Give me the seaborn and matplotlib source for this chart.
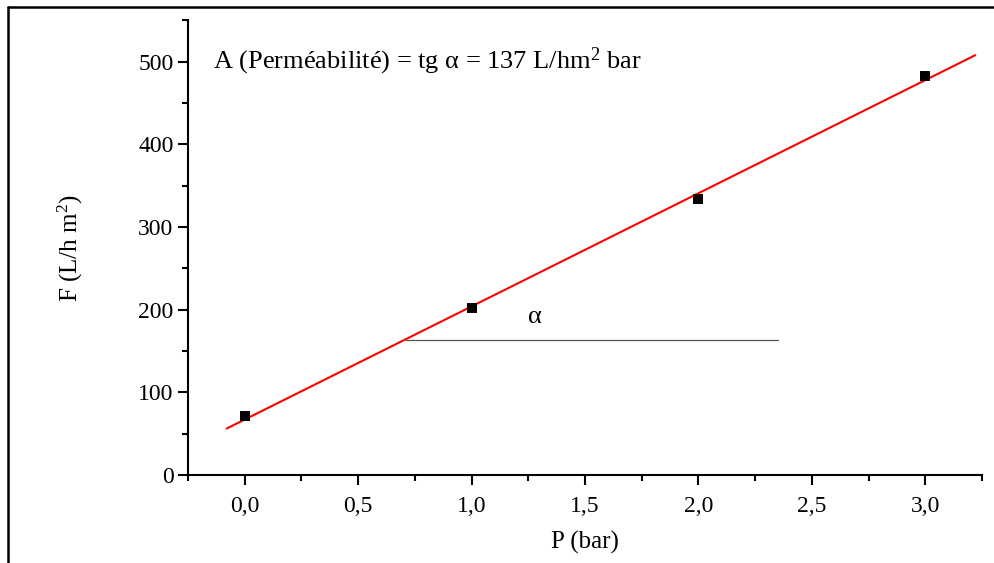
import numpy as np
import pandas as pd
import seaborn as sns
import matplotlib.pyplot as plt
from matplotlib.lines import Line2D
from matplotlib.ticker import MultipleLocator, FuncFormatter

# data
pressure = [0.0, 1.0, 2.0, 3.0]
flux = [71, 202, 334, 483]
fit_range = [-0.08, 3.22]
alpha_line_x = [0.71, 2.35]
alpha_line_y = 163

sns.set_style("ticks")
plt.rcParams['font.family'] = ['Liberation Serif', 'DejaVu Serif']
plt.rcParams['mathtext.fontset'] = 'custom'
plt.rcParams['mathtext.rm'] = 'Liberation Serif'
plt.rcParams['mathtext.it'] = 'Liberation Serif:italic'
plt.rcParams['text.color'] = 'black'
plt.rcParams['axes.labelcolor'] = 'black'
plt.rcParams['xtick.color'] = 'black'
plt.rcParams['ytick.color'] = 'black'
plt.rcParams['axes.edgecolor'] = 'black'

df = pd.DataFrame({'P': pressure, 'F': flux})

# linear fit (slope ~137)
slope, intercept = np.polyfit(pressure, flux, 1)
fit_x = np.array(fit_range)
fit_df = pd.DataFrame({'P': fit_x, 'F': slope * fit_x + intercept})

fig = plt.figure(figsize=(9.95, 5.63), dpi=100)
ax = fig.add_axes([0.189, 0.156, 0.798, 0.808])

sns.lineplot(x='P', y='F', data=fit_df, color='red', linewidth=1.5, ax=ax)
sns.scatterplot(x='P', y='F', data=df, marker='s', s=55, color='black',
                edgecolor='black', linewidth=0, ax=ax, zorder=3)
ax.plot(alpha_line_x, [alpha_line_y, alpha_line_y], color='#555555', linewidth=0.9)
ax.text(1.28, 178, 'α', fontsize=19, ha='center', va='bottom')

ax.text(-0.14, 500, 'A (Perméabilité) = tg α = 137 L/hm$^{2}$ bar',
        fontsize=19, ha='left', va='center')

ax.set_xlim(-0.25, 3.25)
ax.set_ylim(0, 550)
ax.xaxis.set_major_locator(MultipleLocator(0.5))
ax.xaxis.set_minor_locator(MultipleLocator(0.25))
ax.yaxis.set_major_locator(MultipleLocator(100))
ax.yaxis.set_minor_locator(MultipleLocator(50))
ax.xaxis.set_major_formatter(FuncFormatter(lambda v, p: f"{v:.1f}".replace('.', ',')))
ax.tick_params(which='major', length=7, width=1.5, labelsize=17, direction='out')
ax.tick_params(which='minor', length=4, width=1.5, direction='out')
ax.tick_params(axis='x', pad=8)

ax.set_xlabel('P (bar)', fontsize=18, labelpad=10)
ax.set_ylabel('F (L/h m$^{2}$)', fontsize=18, labelpad=38)

sns.despine(ax=ax)
for side in ['left', 'bottom']:
    ax.spines[side].set_linewidth(1.5)

# outer frame (left and top)
fig.add_artist(Line2D([8 / 995, 8 / 995], [0, 1 - 7 / 563], color='black', linewidth=1.8,
                      transform=fig.transFigure))
fig.add_artist(Line2D([8 / 995, 1], [1 - 7 / 563, 1 - 7 / 563], color='black', linewidth=1.8,
                      transform=fig.transFigure))

fig.savefig('out.png', dpi=100)
